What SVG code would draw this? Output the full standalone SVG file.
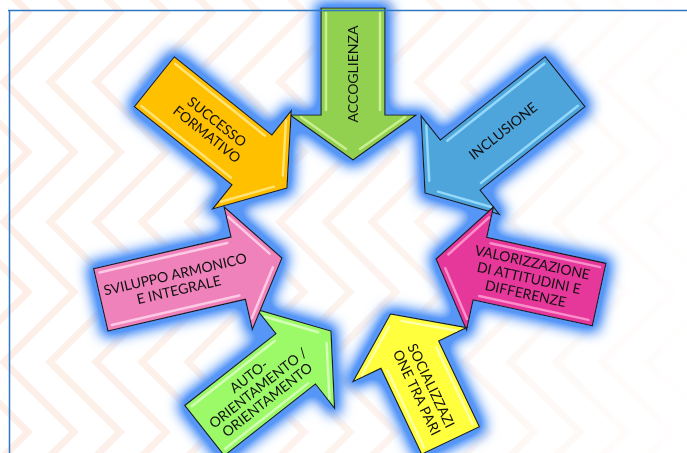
<svg xmlns="http://www.w3.org/2000/svg" xmlns:xlink="http://www.w3.org/1999/xlink" width="687" height="453" viewBox="0 0 687 453">
<defs>
<style>
.arr{stroke:#1a1a1a;stroke-width:1.2;stroke-linejoin:miter}
.hl{fill:none;stroke-width:2.5;stroke-linecap:round;opacity:.85}
.lbl{font-family:Lato,"Open Sans","Liberation Sans",sans-serif;font-size:14px;fill:#111;text-anchor:middle}
.zz{fill:none;stroke:#fdefe8;stroke-width:7}
</style>
<filter id="glow" filterUnits="userSpaceOnUse" x="-40" y="-40" width="767" height="533">
<feMorphology in="SourceAlpha" operator="dilate" radius="5" result="d"/>
<feGaussianBlur in="d" stdDeviation="7" result="b"/>
<feComponentTransfer in="b" result="b2"><feFuncA type="linear" slope="1.5"/></feComponentTransfer>
<feFlood flood-color="#5596f7" flood-opacity="1"/>
<feComposite in2="b2" operator="in" result="g"/>
<feMerge><feMergeNode in="g"/><feMergeNode in="SourceGraphic"/></feMerge>
</filter>
<linearGradient id="fade" x1="0" y1="0" x2="687" y2="0" gradientUnits="userSpaceOnUse">
<stop offset="0" stop-color="#fff" stop-opacity="1"/>
<stop offset="0.55" stop-color="#fff" stop-opacity="0.75"/>
<stop offset="1" stop-color="#fff" stop-opacity="0.05"/>
</linearGradient>
<mask id="bgmask"><rect x="0" y="0" width="687" height="453" fill="url(#fade)"/></mask>
<path id="zig" class="zz" d="M-42,-58 L28,12 L-42,82 L28,152 L-42,222 L28,292 L-42,362 L28,432 L-42,502"/>
</defs>
<rect width="687" height="453" fill="#fff"/>
<g id="background" mask="url(#bgmask)">
<use xlink:href="#zig" x="0"/><use xlink:href="#zig" x="46"/><use xlink:href="#zig" x="92"/><use xlink:href="#zig" x="138"/>
<use xlink:href="#zig" x="184"/><use xlink:href="#zig" x="230"/><use xlink:href="#zig" x="276"/><use xlink:href="#zig" x="322"/>
<use xlink:href="#zig" x="368"/><use xlink:href="#zig" x="414"/><use xlink:href="#zig" x="460"/><use xlink:href="#zig" x="506"/>
<use xlink:href="#zig" x="552"/><use xlink:href="#zig" x="598"/><use xlink:href="#zig" x="644"/><use xlink:href="#zig" x="690"/>
<use xlink:href="#zig" x="736"/>
</g>
<g id="nodes" filter="url(#glow)">
<g id="accoglienza">
<g transform="translate(353,160) rotate(90)">
<path class="arr" fill="#92d050" d="M0,0 L-45,-63 L-45,-32 L-152,-32 L-152,32 L-45,32 L-45,63 Z"/>
<path class="hl" stroke="#d2f59a" d="M-147,-27 L-50,-27 M-147,27 L-50,27 M-43,-52 L-11,-7 M-43,52 L-11,7"/>
</g>
<text class="lbl" transform="translate(353,74) rotate(-90)" y="5">ACCOGLIENZA</text>
</g>
<g id="inclusione">
<g transform="translate(425,193) rotate(141.5)">
<path class="arr" fill="#4ea5dc" d="M0,0 L-45,-63 L-45,-32 L-179,-32 L-179,32 L-45,32 L-45,63 Z"/>
<path class="hl" stroke="#9fe0ff" d="M-174,-27 L-50,-27 M-174,27 L-50,27 M-43,-52 L-11,-7 M-43,52 L-11,7"/>
</g>
<text class="lbl" transform="translate(503,131) rotate(-38.5)" y="5">INCLUSIONE</text>
</g>
<g id="valorizzazione">
<g transform="translate(436,259) rotate(192.3)">
<path class="arr" fill="#e5379a" d="M0,0 L-45,-63 L-45,-32 L-167,-32 L-167,32 L-45,32 L-45,63 Z"/>
<path class="hl" stroke="#ff9fd2" d="M-162,-27 L-50,-27 M-162,27 L-50,27 M-43,-52 L-11,-7 M-43,52 L-11,7"/>
</g>
<text class="lbl" transform="translate(529,278) rotate(12.3)"><tspan x="0" y="-11">VALORIZZAZIONE</tspan><tspan x="0" y="5">DI ATTITUDINI E</tspan><tspan x="0" y="21">DIFFERENZE</tspan></text>
</g>
<g id="socializzazione">
<g transform="translate(390.5,314) rotate(244.6)">
<path class="arr" fill="#ffff3c" d="M0,0 L-45,-63 L-45,-32 L-140,-32 L-140,32 L-45,32 L-45,63 Z"/>
<path class="hl" stroke="#ffffb8" d="M-135,-27 L-50,-27 M-135,27 L-50,27 M-43,-52 L-11,-7 M-43,52 L-11,7"/>
</g>
<text class="lbl" transform="translate(424,389) rotate(64.6)"><tspan x="0" y="-3">SOCIALIZZAZI</tspan><tspan x="0" y="13">ONE TRA PARI</tspan></text>
</g>
<g id="orientamento">
<g transform="translate(331,331) rotate(-38.2)">
<path class="arr" fill="#9cfa68" d="M0,0 L-45,-63 L-45,-32 L-161,-32 L-161,32 L-45,32 L-45,63 Z"/>
<path class="hl" stroke="#dcffc2" d="M-156,-27 L-50,-27 M-156,27 L-50,27 M-43,-52 L-11,-7 M-43,52 L-11,7"/>
</g>
<text class="lbl" transform="translate(258,388) rotate(-38.2)"><tspan x="0" y="-10">AUTO-</tspan><tspan x="0" y="5">ORIENTAMENTO /</tspan><tspan x="0" y="20">ORIENTAMENTO</tspan></text>
</g>
<g id="sviluppo">
<g transform="translate(282,258) rotate(-13)">
<path class="arr" fill="#ef82bb" d="M0,0 L-45,-63 L-45,-32 L-186,-32 L-186,32 L-45,32 L-45,63 Z"/>
<path class="hl" stroke="#ffd6ec" d="M-181,-27 L-50,-27 M-181,27 L-50,27 M-43,-52 L-11,-7 M-43,52 L-11,7"/>
</g>
<text class="lbl" transform="translate(177,282) rotate(-13)"><tspan x="0" y="-3">SVILUPPO ARMONICO</tspan><tspan x="0" y="13">E INTEGRALE</tspan></text>
</g>
<g id="successo">
<g transform="translate(287,188) rotate(38.7)">
<path class="arr" fill="#ffc000" d="M0,0 L-45,-63 L-45,-32 L-170,-32 L-170,32 L-45,32 L-45,63 Z"/>
<path class="hl" stroke="#ffe98a" d="M-165,-27 L-50,-27 M-165,27 L-50,27 M-43,-52 L-11,-7 M-43,52 L-11,7"/>
</g>
<text class="lbl" transform="translate(212,128) rotate(38.7)"><tspan x="0" y="-3">SUCCESSO</tspan><tspan x="0" y="13">FORMATIVO</tspan></text>
</g>
</g>
<path id="frame" d="M8,10.5 H687 M9.5,10 V453" fill="none" stroke="#2f78c4" stroke-width="1.5"/>
</svg>
